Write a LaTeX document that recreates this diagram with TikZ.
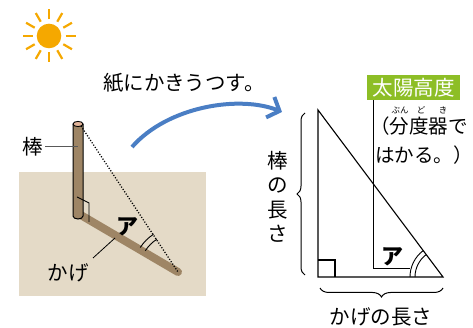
\documentclass[tikz,border=0pt]{standalone}
\usepackage{fontspec}
\setmainfont{Noto Sans CJK JP}
\usetikzlibrary{%
   arrows.meta,%
   decorations.pathreplacing}

\definecolor{sunC}{HTML}{F5A800}
\definecolor{groundC}{HTML}{E4DAC7}
\definecolor{poleC}{HTML}{9E8565}
\definecolor{poletopC}{HTML}{E2B49A}
\definecolor{arrowC}{HTML}{4A7EC4}
\definecolor{boxC}{HTML}{8DBE26}

\begin{document}
\begin{tikzpicture}
[x=1pt, y=1pt,
 txt/.style={inner sep=0pt, font=\fontsize{20.5}{24}\selectfont},
 note/.style={inner sep=0pt, anchor=west, font=\fontsize{19.5}{24}\selectfont},
 kana/.style={inner sep=0pt, font=\fontsize{22}{24}\selectfont\bfseries},
 ruby/.style={inner sep=0pt, font=\fontsize{8.5}{9}\selectfont},
 ray/.style={draw=sunC, line width=2.2pt},
 ang/.style={thin, line width=0.9pt},
 leg/.style={line width=1.1pt},
 curlyL/.style={decorate, decoration={brace, amplitude=8pt}, line width=1pt},
 curlyB/.style={decorate, decoration={brace, amplitude=9pt}, line width=1pt}]
\useasboundingbox (0,0) rectangle (473,328);

% sun
\coordinate (sun) at (49,292);
\fill[sunC] (sun) circle[radius=12.3pt];
\foreach \a in {0,30,...,330}
  \draw[ray] (sun) ++(\a:16.5) -- ++(\a:10);

% caption and transfer arrow
\node[txt, anchor=west] (copy) at (103,245) {紙にかきうつす。};
\coordinate (arrS) at (132,181);
\coordinate (arrE) at (282,216);
\draw[arrowC, line width=4pt, -{Straight Barb[length=10pt,width=22pt]}]
  (arrS) .. controls (168,222) and (240,233) .. (arrE);

% ground, shadow and pole
\fill[groundC] (19,32) rectangle (206,156);
\coordinate (foot)   at (79,114);
\coordinate (tip)    at (178,56);
\coordinate (top)    at (81,202);
\draw[poleC, line width=8pt, line cap=round] (foot) -- (tip);
\draw[fill=poleC, line width=1pt] (73,204) -- (73,112)
  arc[start angle=180, end angle=360, x radius=5pt, y radius=3pt] -- (83,204);
\draw[fill=poletopC, line width=0.9pt] (78,204) ellipse[x radius=5pt, y radius=2.6pt];
\draw[line width=1.3pt, dash pattern=on 1.1pt off 1.7pt] (top) -- (tip);
\draw[ang] (77,131) -- (89,125) -- (89,106);
\draw[ang] (tip) ++(123:45) arc[start angle=123, end angle=147, radius=45pt];
\draw[ang] (tip) ++(123:39) arc[start angle=123, end angle=147, radius=39pt];

\node[txt]  (bo)    at ( 33,181) {棒};
\node[kana] (angA)  at (127,101) {ア};
\node[txt]  (kage)  at ( 68, 55) {かげ};
\coordinate (boP)   at ( 78,181);
\coordinate (kageP) at (115, 90);
\draw[black!65, line width=1pt] (bo.east) ++(2,0) -- (boP);
\draw[line width=0.8pt] (93,70) -- (kageP);

% right triangle on paper
\coordinate (A) at (318,218);
\coordinate (B) at (318,51);
\coordinate (C) at (443,51);
\draw[leg] (A) -- (B) -- (C) -- cycle;
\draw[leg] (318,68) -- (335,68) -- (335,51);
\draw[ang] (C) ++(127:33) arc[start angle=127, end angle=180, radius=33pt];
\draw[ang] (C) ++(127:28) arc[start angle=127, end angle=180, radius=28pt];
\node[kana] (angB) at (392,71) {ア};

% protractor reading
\node[fill=boxC, text=white, inner sep=0pt, minimum width=93pt, minimum height=25pt,
      font=\fontsize{20.5}{24}\selectfont] (alt) at (413.5,240.5) {太陽高度};
\draw[line width=1pt] (373,228) -- (373,59) -- (410,59);
\node[note] (note1) at (370,202) {（分度器で};
\node[note] (note2) at (375,173) {はかる。）};
\node[ruby] (r1) at (400,218) {ぶん};
\node[ruby] (r2) at (421,218) {ど};
\node[ruby] (r3) at (443,218) {き};

% lengths
\draw[curlyL] (305,53) -- (305,215);
\node[txt, align=center, font=\fontsize{20.5}{24.5}\selectfont] (poleLen) at (278,131) {棒\\の\\長\\さ};
\draw[curlyB] (443,40) -- (320,40);
\node[txt] (shadowLen) at (381,11) {かげの長さ};
\end{tikzpicture}
\end{document}
